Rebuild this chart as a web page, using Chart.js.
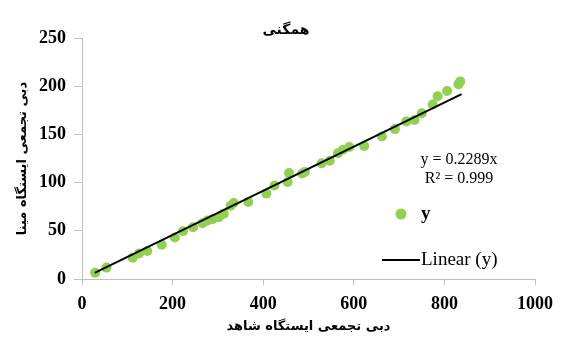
<!DOCTYPE html>
<html>
<head>
<meta charset="utf-8">
<script src="https://cdn.jsdelivr.net/npm/chart.js@4"></script>
<style>
  html, body { margin: 0; padding: 0; background: #fff; }
  #wrap { width: 562px; height: 340px; position: relative; }
</style>
</head>
<body>
<div id="wrap"><canvas id="c"></canvas></div>
<script>
const xVals = [29, 54, 112, 126, 144, 176, 205, 223, 245, 266, 277, 288, 302, 313, 328, 335, 367,
  407, 425, 454, 457, 486, 492, 529, 547, 565, 576, 590, 623, 662, 691, 716, 734, 750, 774, 785, 806, 831, 835];
const yVals = [6.6, 11.8, 22, 26.5, 29, 35.5, 43, 49.5, 53.7, 57.9, 60.7, 62, 64, 67.6, 76, 78.8, 79.8,
  88.6, 97, 100.7, 110, 109.5, 111, 120, 122.7, 130.4, 134, 137, 138, 147.8, 155.5, 163.5, 165, 172, 181, 189.6, 195, 202, 205];

// trendline from the equation on the chart
const slope = 0.2289;
const trendX = [28, 838];
const equationLines = ['y = 0.2289x', 'R\u00b2 = 0.999'];

const xTicks = [0, 200, 400, 600, 800, 1000];
const yTicks = [0, 50, 100, 150, 200, 250];

const titleText = 'همگنی';
const xTitle = 'دبی تجمعی ایستگاه شاهد';
const yTitle = 'دبی تجمعی ایستگاه مینا';

const green = '#92d050';
const axisGrey = '#bfbfbf';
const serif = "'Liberation Serif', 'DejaVu Serif', serif";
const persian = "'DejaVu Sans', sans-serif";

const points = xVals.map((x, i) => ({ x: x, y: yVals[i] }));
const trend = trendX.map(x => ({ x: x, y: slope * x }));

// title, equation and legend drawn on top of the chart
const extras = {
  id: 'extras',
  afterDraw(chart) {
    const ctx = chart.ctx;
    ctx.save();
    ctx.fillStyle = '#000';
    ctx.textAlign = 'center';
    ctx.textBaseline = 'middle';
    ctx.font = 'bold 14px ' + persian;
    ctx.fillText(titleText, 286, 30);

    ctx.font = '16px ' + serif;
    ctx.fillText(equationLines[0], 459, 160);
    ctx.fillText(equationLines[1], 459, 179);

    // legend: marker entry
    ctx.fillStyle = green;
    ctx.beginPath();
    ctx.arc(401, 214, 5.5, 0, Math.PI * 2);
    ctx.fill();
    ctx.fillStyle = '#000';
    ctx.textAlign = 'left';
    ctx.font = 'bold 19px ' + serif;
    ctx.fillText('y', 421, 214);

    // legend: line entry
    ctx.strokeStyle = '#000';
    ctx.lineWidth = 2;
    ctx.beginPath();
    ctx.moveTo(382, 260);
    ctx.lineTo(420, 260);
    ctx.stroke();
    ctx.font = '19px ' + serif;
    ctx.fillText('Linear (y)', 421, 260);
    ctx.restore();
  }
};

new Chart(document.getElementById('c'), {
  type: 'scatter',
  data: {
    datasets: [
      {
        type: 'line',
        label: 'Linear (y)',
        data: trend,
        borderColor: '#000',
        borderWidth: 2,
        pointRadius: 0,
        fill: false,
        order: 0
      },
      {
        label: 'y',
        data: points,
        backgroundColor: green,
        borderWidth: 0,
        pointRadius: 5,
        order: 1
      }
    ]
  },
  options: {
    responsive: true,
    maintainAspectRatio: false,
    animation: false,
    layout: { padding: { top: 38, right: 21, left: 0, bottom: 0 } },
    plugins: {
      legend: { display: false },
      tooltip: { enabled: false }
    },
    scales: {
      x: {
        type: 'linear',
        min: 0,
        max: 1000,
        afterBuildTicks: s => { s.ticks = xTicks.map(v => ({ value: v })); },
        afterFit: s => { s.height = 61; },
        border: { color: axisGrey, width: 1 },
        grid: { drawOnChartArea: false, drawTicks: true, tickLength: 6, color: axisGrey },
        ticks: {
          color: '#000',
          padding: 9,
          callback: v => String(v),
          font: { family: serif, size: 18, weight: 'bold' }
        },
        title: {
          display: true,
          text: xTitle,
          color: '#000',
          padding: { top: 0, bottom: 6 },
          font: { family: persian, size: 13, weight: 'bold' }
        }
      },
      y: {
        type: 'linear',
        min: 0,
        max: 250,
        afterBuildTicks: s => { s.ticks = yTicks.map(v => ({ value: v })); },
        afterFit: s => { s.width = 82; },
        border: { color: axisGrey, width: 1 },
        grid: { drawOnChartArea: false, drawTicks: true, tickLength: 8, color: axisGrey },
        ticks: {
          color: '#000',
          padding: 8,
          callback: v => String(v),
          font: { family: serif, size: 18, weight: 'bold' }
        },
        title: {
          display: true,
          text: yTitle,
          color: '#000',
          padding: { top: 15, bottom: 0 },
          font: { family: persian, size: 13, weight: 'bold' }
        }
      }
    }
  },
  plugins: [extras]
});
</script>
</body>
</html>
